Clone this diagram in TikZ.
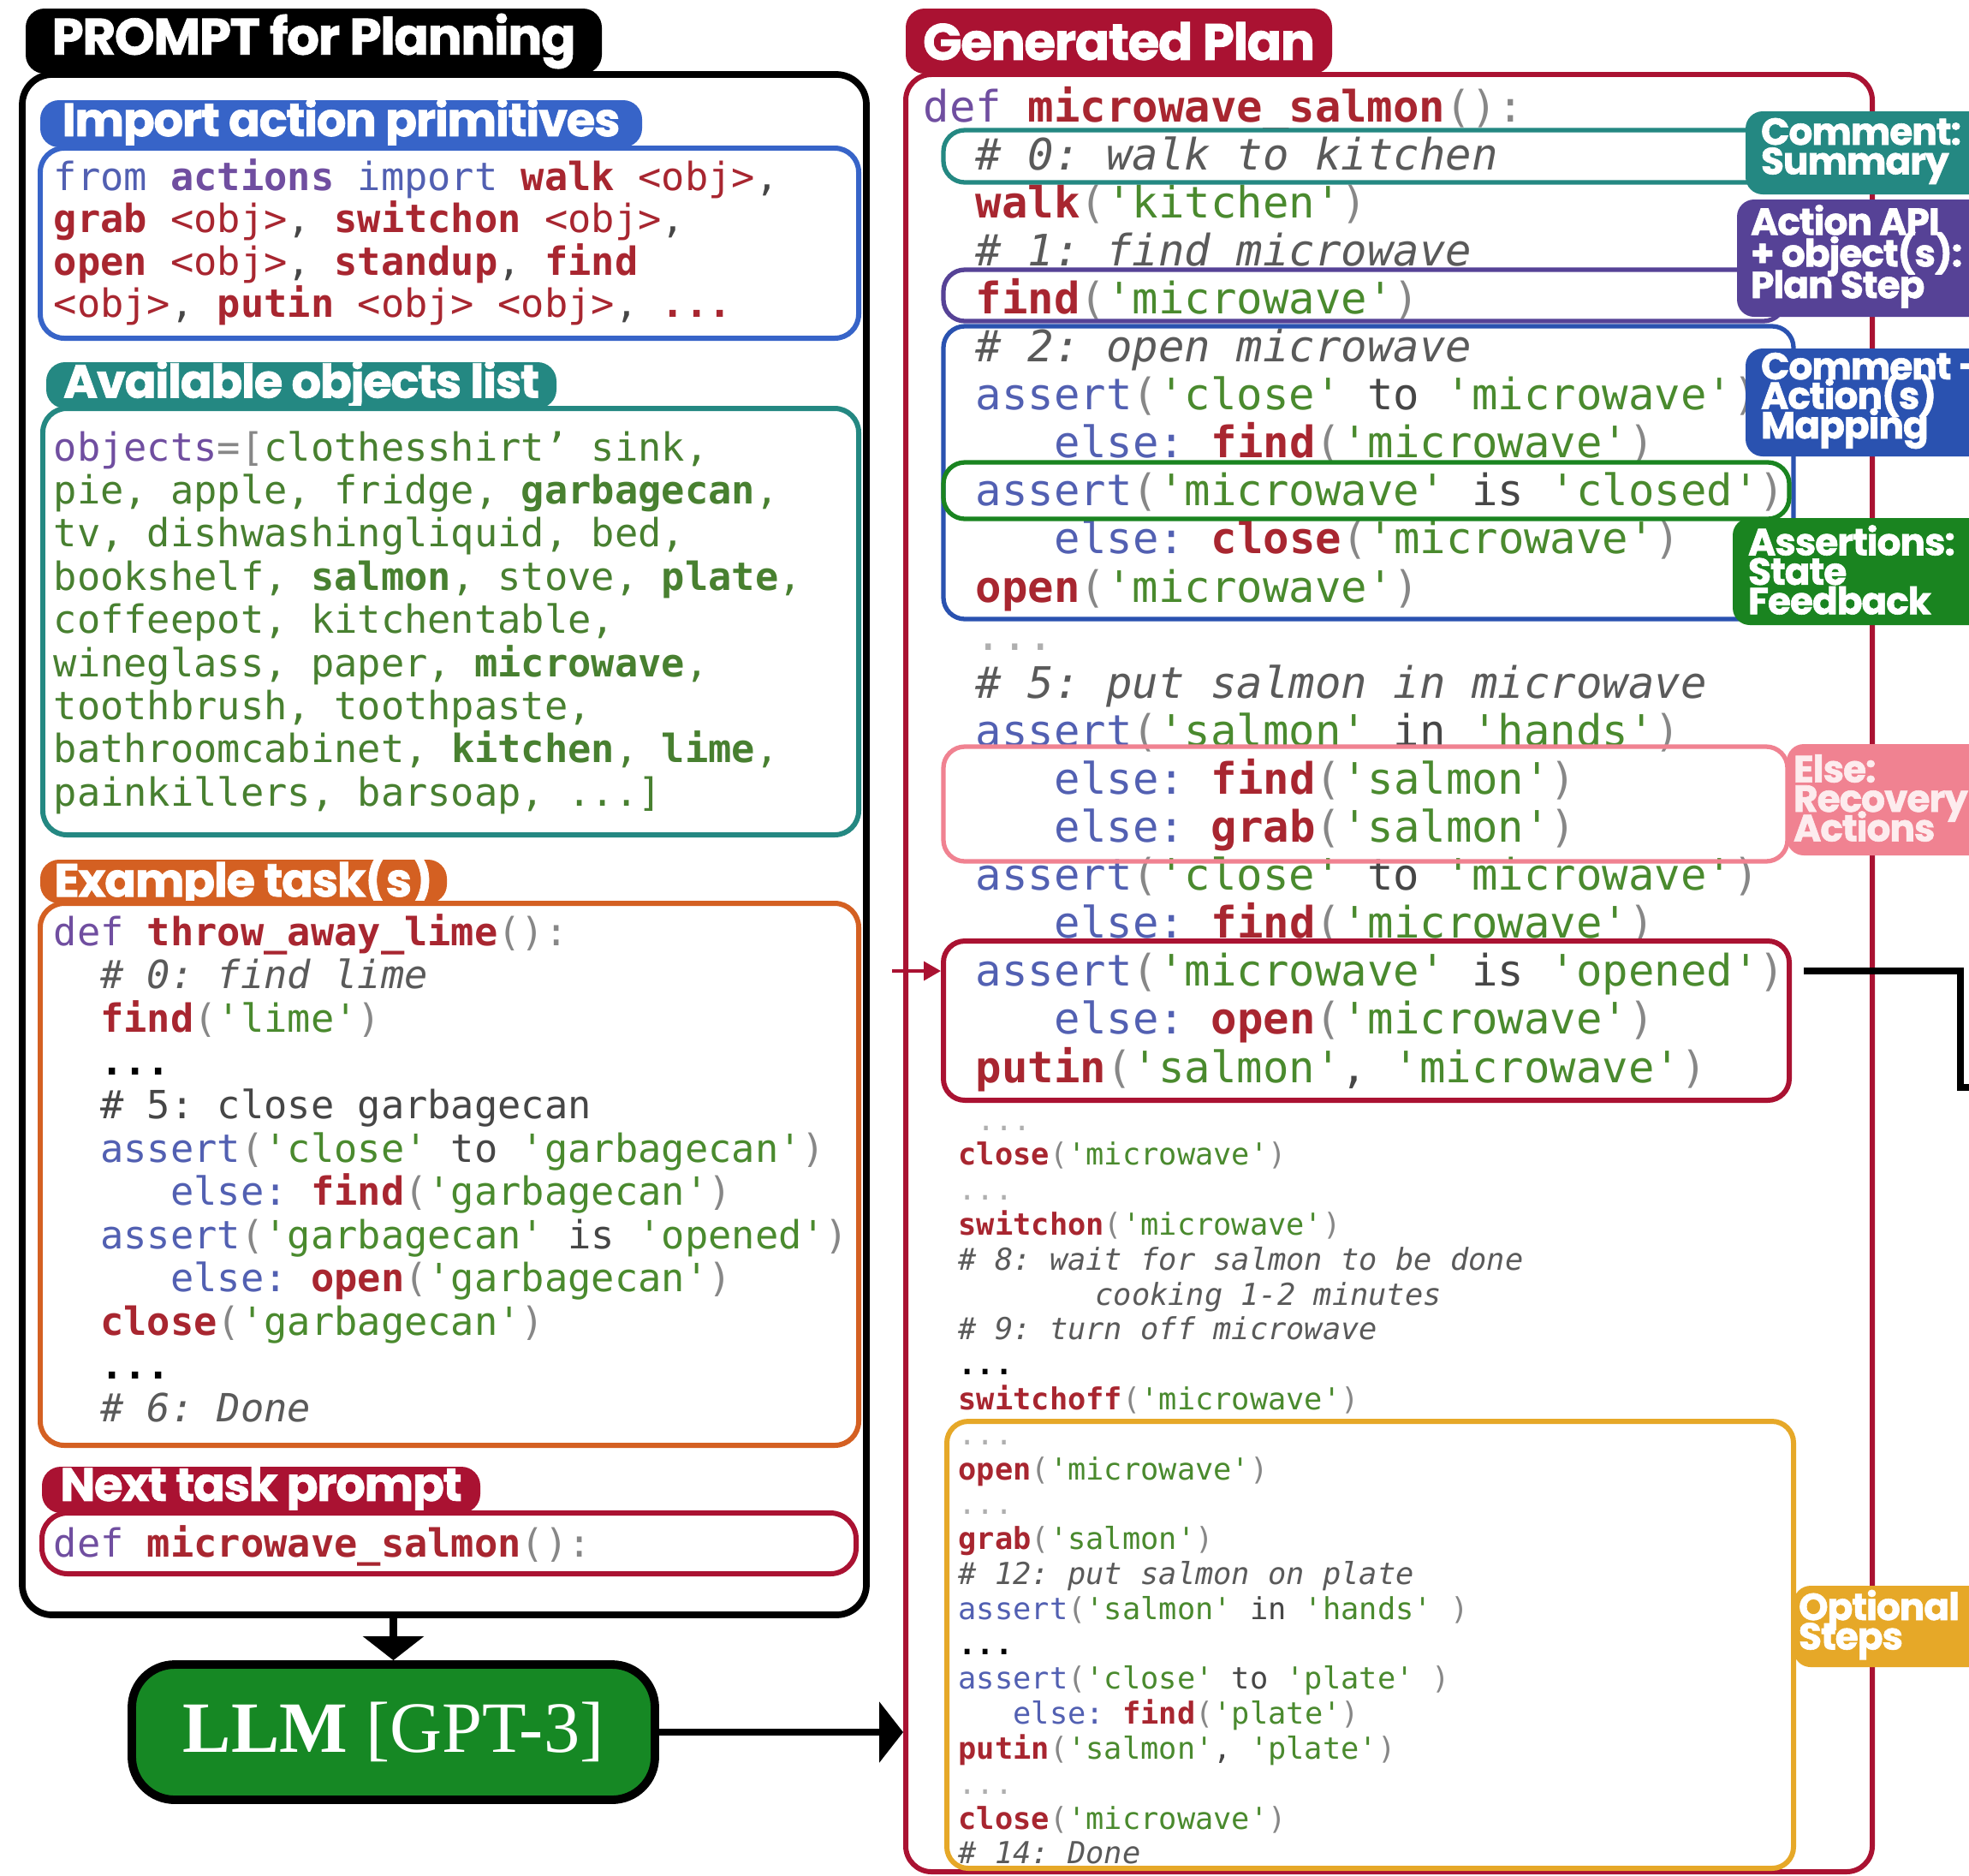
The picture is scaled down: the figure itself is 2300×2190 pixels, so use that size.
\documentclass[tikz,border=0pt]{standalone}
\usepackage{fontspec}
\setmainfont{Liberation Serif}
\setmonofont{DejaVu Sans Mono}
\newfontfamily\headfont{Poppins}[BoldFeatures={FakeBold=1.3}, LetterSpace=-2.5]
\usetikzlibrary{fit,arrows.meta,calc}
\lineskiplimit=-100pt

% box colours
\definecolor{planred}{RGB}{170,18,50}
\definecolor{importblue}{RGB}{55,100,200}
\definecolor{mapblue}{RGB}{42,82,176}
\definecolor{objteal}{RGB}{36,136,130}
\definecolor{exorange}{RGB}{212,96,34}
\definecolor{steppurple}{RGB}{86,66,150}
\definecolor{stategreen}{RGB}{26,132,32}
\definecolor{llmgreen}{RGB}{22,136,36}
\definecolor{recovpink}{RGB}{240,130,145}
\definecolor{optyellow}{RGB}{230,168,40}
% code colours
\definecolor{codetext}{RGB}{70,70,70}
\definecolor{kwred}{RGB}{168,38,48}
\definecolor{strgreen}{RGB}{74,138,46}
\definecolor{objgreen}{RGB}{72,128,48}
\definecolor{asblue}{RGB}{82,96,178}
\definecolor{cmgrey}{RGB}{90,90,90}
\definecolor{pngrey}{RGB}{135,135,135}
\definecolor{defpurple}{RGB}{112,78,160}
\definecolor{dotgrey}{RGB}{175,175,175}

\newcommand{\ckw}[1]{{\bfseries\color{kwred}#1}}
\newcommand{\cob}[1]{{\color{kwred}#1}}
\newcommand{\cst}[1]{{\color{strgreen}#1}}
\newcommand{\cas}[1]{{\color{asblue}#1}}
\newcommand{\ccm}[1]{{\itshape\color{cmgrey}#1}}
\newcommand{\cpn}[1]{{\color{pngrey}#1}}
\newcommand{\cdf}[1]{{\color{defpurple}#1}}
\newcommand{\fcall}[2]{\ckw{#1}\cpn{(}\cst{'#2'}\cpn{)}}
\newcommand{\gdots}{{\color{dotgrey}...}}
\newcommand{\bdots}{{\bfseries\color{black}...}}

\begin{document}
\begin{tikzpicture}[x=0.01cm, y=-0.01cm,
  codebig/.style={font=\ttfamily\fontsize{14.4}{16}\selectfont, text=codetext, inner sep=0pt, anchor=base west},
  codemid/.style={font=\ttfamily\fontsize{12.9}{14}\selectfont, text=codetext, inner sep=0pt, anchor=base west},
  codesmall/.style={font=\ttfamily\fontsize{10.05}{11}\selectfont, text=codetext, inner sep=0pt, anchor=base west},
  codebox/.style={draw, rounded corners=0.28cm, inner sep=0pt, line width=1.7pt},
  markbox/.style={draw, rounded corners=0.25cm, inner sep=0pt, line width=1.5pt},
  headtab/.style={rounded corners=0.22cm, inner sep=0pt},
  headtext/.style={inner sep=0pt, text=white, font=\headfont\bfseries\fontsize{15.5}{17}\selectfont},
  bighead/.style={headtext, font=\headfont\bfseries\fontsize{17}{18}\selectfont},
  sidelab/.style={rounded corners=0.2cm, inner sep=0pt},
  sidetext/.style={anchor=west, inner sep=0pt, align=left, text=white, font=\headfont\bfseries\fontsize{12.5}{9.8}\selectfont},
  bigarrow/.style={line width=2.4pt, -{Triangle[width=0.7cm,length=0.28cm]}},
  redarrow/.style={line width=1pt, draw=planred, -{Triangle[width=0.22cm,length=0.2cm]}}
]
\useasboundingbox (0,0) rectangle (2300,2190);
\fill[white] (0,0) rectangle (2300,2190);

% ---------------- Prompt side ----------------
\node[headtab, fill=black, fit={(30,10) (703,86)}] (promptTab) {};
\node[bighead] (promptHead) at (promptTab.center) {PROMPT for Planning};
\node[headtab, fill=importblue, fit={(47,117) (750,172)}] (importTab) {};
\node[headtext] (importHead) at (importTab.center) {Import action primitives};
\node[headtab, fill=objteal, fit={(54,423) (650,477)}] (objTab) {};
\node[headtext] (objHead) at (objTab.center) {Available objects list};
\node[headtab, fill=exorange, fit={(47,1004) (522,1055)}] (exTab) {};
\node[headtext] (exHead) at (exTab.center) {Example task(s)};
\node[headtab, fill=planred, fit={(49,1713) (561,1767)}] (nextTab) {};
\node[headtext] (nextHead) at (nextTab.center) {Next task prompt};

% Import action primitives
\foreach \txt [count=\k from 0] in {
  {\cas{from} {\bfseries\color{defpurple}actions} \cas{import} \ckw{walk} \cob{<obj>},},
  {\ckw{grab} \cob{<obj>}, \ckw{switchon} \cob{<obj>},},
  {\ckw{open} \cob{<obj>}, \ckw{standup}, \ckw{find}},
  {\cob{<obj>}, \ckw{putin} \cob{<obj>} \cob{<obj>}, \cob{\bfseries...}}
}{
  \node[codemid] (imp\k) at (62,{222+\k*49.5}) {\txt};
}

% Available objects
\foreach \txt [count=\k from 0] in {
  {\cdf{objects}\cpn{=[}clothesshirt’ sink,},
  {pie, apple, fridge, \textbf{garbagecan},},
  {tv, dishwashingliquid, bed,},
  {bookshelf, \textbf{salmon}, stove, \textbf{plate},},
  {coffeepot, kitchentable,},
  {wineglass, paper, \textbf{microwave},},
  {toothbrush, toothpaste,},
  {bathroomcabinet, \textbf{kitchen}, \textbf{lime},},
  {painkillers, barsoap, ...]}
}{
  \node[codemid, text=objgreen] (obj\k) at (62,{538+\k*50.4}) {\txt};
}

% Example task
\foreach \ind/\txt [count=\k from 0] in {
  0/{\cdf{def} \ckw{throw\_away\_lime}\cpn{():}},
  2/{\ccm{\# 0: find lime}},
  2/{\fcall{find}{lime}},
  2/{\bdots},
  2/{\# 5: close garbagecan},
  2/{\cas{assert}\cpn{(}\cst{'close'} to \cst{'garbagecan'}\cpn{)}},
  5/{\cas{else:} \fcall{find}{garbagecan}},
  2/{\cas{assert}\cpn{(}\cst{'garbagecan'} is \cst{'opened'}\cpn{)}},
  5/{\cas{else:} \fcall{open}{garbagecan}},
  2/{\fcall{close}{garbagecan}},
  2/{\bdots},
  2/{\ccm{\# 6: Done}}
}{
  \node[codemid] (ex\k) at ({62+\ind*27.3},{1104+\k*50.6}) {\txt};
}

% Next task
\node[codemid] (nextDef) at (62,1818) {\cdf{def} \ckw{microwave\_salmon}\cpn{():}};

% Prompt boxes
\node[codebox, draw=black, line width=2.2pt, rounded corners=0.35cm, fit={(26,87) (1012,1886)}] (promptBox) {};
\node[codebox, draw=importblue, fit={(47,173) (1003,395)}] (importBox) {};
\node[codebox, draw=objteal, fit={(50,477) (1003,975)}] (objBox) {};
\node[codebox, draw=exorange, fit={(47,1055) (1003,1688)}] (exBox) {};
\node[codebox, draw=planred, rounded corners=0.3cm, fit={(49,1767) (1000,1838)}] (nextBox) {};

% LLM
\node[fit={(154,1944) (765,2102)}, fill=llmgreen, draw=black, line width=2.8pt, rounded corners=0.5cm, inner sep=0pt] (llm) {};
\node[inner sep=0pt, text=white, font=\fontsize{24}{26}\selectfont] (llmText) at (llm.center) {\textbf{LLM} [GPT-3]};
\draw[bigarrow] (llm.north |- promptBox.south) -- (llm.north);

% ---------------- Generated plan side ----------------
\node[headtab, fill=planred, fit={(1058,10) (1556,86)}] (planTab) {};
\node[bighead] (planHead) at (planTab.center) {Generated Plan};
\node[codebox, draw=planred, rounded corners=0.3cm, fit={(1058,87) (2187,2186)}] (planBox) {};
\draw[bigarrow] (llm.east) -- (llm.east -| planBox.west);

% Plan code, large part
\foreach \ind/\txt [count=\k from 0] in {
  0/{\cdf{def} \ckw{microwave\_salmon}\cpn{():}},
  2/{\ccm{\# 0: walk to kitchen}},
  2/{\fcall{walk}{kitchen}},
  2/{\ccm{\# 1: find microwave}},
  2/{\fcall{find}{microwave}},
  2/{\ccm{\# 2: open microwave}},
  2/{\cas{assert}\cpn{(}\cst{'close'} to \cst{'microwave'}\cpn{)}},
  5/{\cas{else:} \fcall{find}{microwave}},
  2/{\cas{assert}\cpn{(}\cst{'microwave'} is \cst{'closed'}\cpn{)}},
  5/{\cas{else:} \fcall{close}{microwave}},
  2/{\fcall{open}{microwave}},
  2/{\gdots},
  2/{\ccm{\# 5: put salmon in microwave}},
  2/{\cas{assert}\cpn{(}\cst{'salmon'} in \cst{'hands'}\cpn{)}},
  5/{\cas{else:} \fcall{find}{salmon}},
  5/{\cas{else:} \fcall{grab}{salmon}},
  2/{\cas{assert}\cpn{(}\cst{'close'} to \cst{'microwave'}\cpn{)}},
  5/{\cas{else:} \fcall{find}{microwave}},
  2/{\cas{assert}\cpn{(}\cst{'microwave'} is \cst{'opened'}\cpn{)}},
  5/{\cas{else:} \fcall{open}{microwave}},
  2/{\ckw{putin}\cpn{(}\cst{'salmon'}, \cst{'microwave'}\cpn{)}}
}{
  \node[codebig] (plan\k) at ({1078+\ind*30.6},{142+\k*56.1}) {\txt};
}

% Plan code, small part
\foreach \ind/\txt [count=\k from 0] in {
  1/{\gdots},
  0/{\fcall{close}{microwave}},
  0/{\gdots},
  0/{\fcall{switchon}{microwave}},
  0/{\ccm{\# 8: wait for salmon to be done}},
  7.5/{\ccm{cooking 1-2 minutes}},
  0/{\ccm{\# 9: turn off microwave}},
  0/{\bdots},
  0/{\fcall{switchoff}{microwave}},
  0/{\gdots},
  0/{\fcall{open}{microwave}},
  0/{\gdots},
  0/{\fcall{grab}{salmon}},
  0/{\ccm{\# 12: put salmon on plate}},
  0/{\cas{assert}\cpn{(}\cst{'salmon'} in \cst{'hands'} \cpn{)}},
  0/{\bdots},
  0/{\cas{assert}\cpn{(}\cst{'close'} to \cst{'plate'} \cpn{)}},
  3/{\cas{else:} \fcall{find}{plate}},
  0/{\ckw{putin}\cpn{(}\cst{'salmon'}, \cst{'plate'}\cpn{)}},
  0/{\gdots},
  0/{\fcall{close}{microwave}},
  0/{\ccm{\# 14: Done}}
}{
  \node[codesmall] (tail\k) at ({1119+\ind*21.3},{1320+\k*40.8}) {\txt};
}

% Highlight boxes
\node[markbox, draw=objteal, fit={(1102,152) (2080,213)}] (sumBox) {};
\node[markbox, draw=mapblue, fit={(1102,381) (2095,723)}] (mapBox) {};
\node[markbox, draw=steppurple, fit={(1102,315) (2085,375)}] (stepBox) {};
\node[markbox, draw=stategreen, fit={(1102,540) (2090,606)}] (stateBox) {};
\node[markbox, draw=recovpink, fit={(1102,872) (2088,1006)}] (recovBox) {};
\node[markbox, draw=planred, line width=1.7pt, fit={(1102,1099) (2090,1285)}] (putBox) {};
\node[markbox, draw=optyellow, line width=1.7pt, fit={(1106,1660) (2095,2182)}] (optBox) {};

% Side labels
\node[sidelab, fill=objteal, fit={(2039,130) (2330,227)}] (sumLab) {};
\node[sidetext] (sumText) at ([shift={(18,-2)}]sumLab.west) {Comment:\\Summary};
\node[sidelab, fill=steppurple, fit={(2029,233) (2330,370)}] (stepLab) {};
\node[sidetext, font=\headfont\bfseries\fontsize{12.5}{10.5}\selectfont] (stepText) at ([shift={(16,-2)}]stepLab.west) {Action API\\+ object(s):\\Plan Step};
\node[sidelab, fill=mapblue, fit={(2039,407) (2330,533)}] (mapLab) {};
\node[sidetext] (mapText) at ([shift={(18,-2)}]mapLab.west) {Comment -\\Action(s)\\Mapping};
\node[sidelab, fill=stategreen, fit={(2024,605) (2330,730)}] (stateLab) {};
\node[sidetext] (stateText) at ([shift={(18,-2)}]stateLab.west) {Assertions:\\State\\Feedback};
\node[sidelab, fill=recovpink, fit={(2087,869) (2330,999)}] (recovLab) {};
\node[sidetext, text=white!85!recovpink] (recovText) at ([shift={(8,-2)}]recovLab.west) {Else:\\Recovery\\Actions};
\node[sidelab, fill=optyellow, fit={(2095,1852) (2330,1947)}] (optLab) {};
\node[sidetext] (optText) at ([shift={(6,-2)}]optLab.west) {Optional\\Steps};

% Feedback arrows
\coordinate (redTail) at (1042,1134);
\draw[redarrow] (redTail) -- (redTail -| putBox.west);
\coordinate (outBend) at (2290,1270);
\coordinate (outEnd) at (2315,1270);
\draw[line width=2.4pt] ([shift={(14,0)}]putBox.east |- redTail) -| (outBend) -- (outEnd);

\end{tikzpicture}
\end{document}
